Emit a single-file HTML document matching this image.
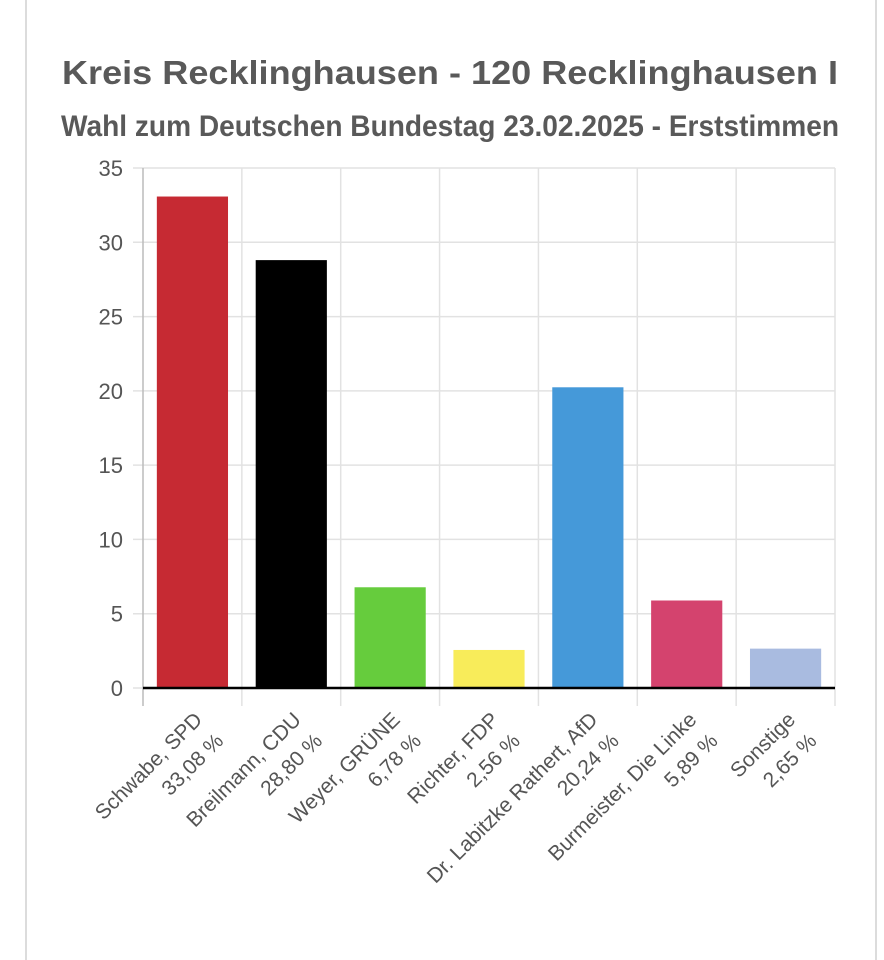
<!DOCTYPE html>
<html><head><meta charset="utf-8"><style>
html,body{margin:0;padding:0;background:#fff;width:884px;height:960px;overflow:hidden}
svg{display:block;font-family:"Liberation Sans",sans-serif}
</style></head><body>
<svg id="chart" width="884" height="960">
<rect x="26" y="-2" width="850" height="970" fill="#fff" stroke="#dcdcdc" stroke-width="2"/>
<text x="450" y="84" text-anchor="middle" font-size="33" font-weight="bold" fill="#595959" textLength="776" lengthAdjust="spacingAndGlyphs">Kreis Recklinghausen - 120 Recklinghausen I</text>
<text x="450" y="136" text-anchor="middle" font-size="30" font-weight="bold" fill="#595959" textLength="778" lengthAdjust="spacingAndGlyphs">Wahl zum Deutschen Bundestag 23.02.2025  - Erststimmen</text>
<g id="grid"></g><g id="bars"></g><g id="labels"></g>
</svg>
<script>
const categories = ["Schwabe, SPD","Breilmann, CDU","Weyer, GRÜNE","Richter, FDP","Dr. Labitzke Rathert, AfD","Burmeister, Die Linke","Sonstige"];
const values = [33.08, 28.80, 6.78, 2.56, 20.24, 5.89, 2.65];
const valueLabels = ["33,08 %","28,80 %","6,78 %","2,56 %","20,24 %","5,89 %","2,65 %"];
const colors = ["#c62a33","#000000","#66cc3d","#f8ec5a","#4599d9","#d4436e","#a9bbe0"];
const yTicks = [0,5,10,15,20,25,30,35];

const NS="http://www.w3.org/2000/svg";
const X0=143, X1=835, Y0=688, Y1=168, YMAX=35;
const bw=(X1-X0)/categories.length;
const y=v=>Y0-(v/YMAX)*(Y0-Y1);
const xc=i=>X0+bw*(i+0.5);
function mk(t,a,p){const e=document.createElementNS(NS,t);for(const k in a)e.setAttribute(k,a[k]);p.appendChild(e);return e;}
const grid=document.getElementById('grid'), bars=document.getElementById('bars'), labels=document.getElementById('labels');
yTicks.forEach(t=>{
  const l=mk('line',{x1:X0-10,x2:X1,y1:y(t),y2:y(t),stroke:'#e2e2e2','stroke-width':1.5},grid);
  
  
  const tx=mk('text',{x:X0-20,y:y(t)+8,'text-anchor':'end','font-size':22,fill:'#555'},grid);
  tx.textContent=t;
  
  
});
for(let i=0;i<=categories.length;i++){
  const gx=X0+bw*i;
  const l=mk('line',{x1:gx,x2:gx,y1:Y1,y2:Y0+18,stroke:i==0?'#bbb':'#e2e2e2','stroke-width':1.5},grid);
  
  
}
values.forEach((v,i)=>{
  const w=bw*0.72;
  const r=mk('rect',{x:xc(i)-w/2,y:y(v),width:w,height:Y0-y(v),fill:colors[i]},bars);
  
  
  const g=mk('g',{transform:`translate(${xc(i)+11},721) rotate(-45)`},labels);
  
  
  const t1=mk('text',{x:0,y:0,'text-anchor':'end','font-size':21,fill:'#555'},g);
  t1.textContent=categories[i];
  const t2=mk('text',{x:0,y:30,'text-anchor':'end','font-size':21,fill:'#555'},g);
  t2.textContent=valueLabels[i];
});
const ax=mk('line',{x1:X0,x2:X1,y1:Y0,y2:Y0,stroke:'#000','stroke-width':2.5},bars);


</script>
</body></html>
